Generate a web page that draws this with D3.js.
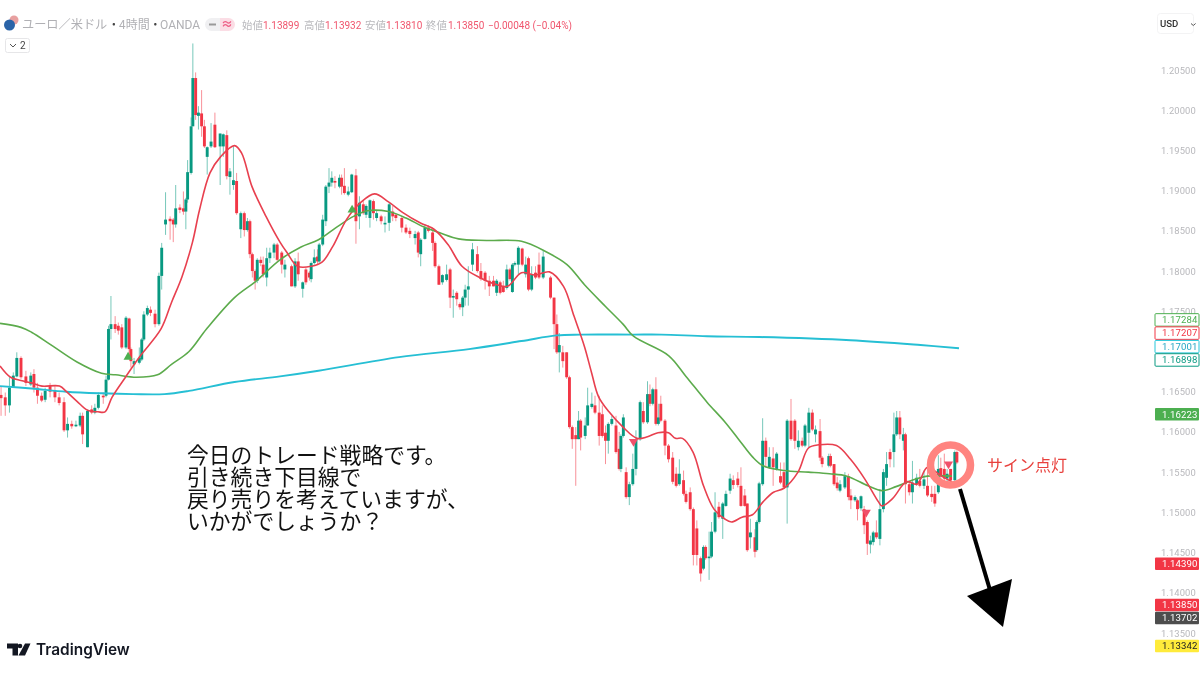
<!DOCTYPE html>
<html><head><meta charset="utf-8">
<script src="https://cdn.jsdelivr.net/npm/d3@7/dist/d3.min.js"></script>
<style>html,body{margin:0;padding:0;background:#fff}svg{display:block;filter:blur(0.35px)}</style>
</head><body><svg id="c" width="1200" height="675"></svg>
<script>
// rows: [bar, open, high, low, close]
const candlesA=[[.3,1.1646,1.1657,1.1620,1.1642],[1.5,1.1643,1.1649,1.1620,1.1633],[2.7,1.1633,1.1668,1.1624,1.1655],[3.8,1.1655,1.1674,1.1655,1.1670],[4.8,1.1669,1.1699,1.1668,1.1692],[6,1.1692,1.1694,1.1666,1.1668],[7.4,1.1669,1.1676,1.1657,1.1661],[8.8,1.1659,1.1674,1.1657,1.1670],[9.7,1.1672,1.1678,1.1649,1.1655],[10.7,1.1655,1.1661,1.1635,1.1645],[11.9,1.1645,1.1649,1.1637,1.1639],[12.9,1.1640,1.1655,1.1637,1.1651],[14.3,1.1657,1.1661,1.1643,1.1650],[15.7,1.1651,1.1657,1.1637,1.1643],[16.9,1.1643,1.1649,1.1633,1.1636],[18.3,1.1637,1.1643,1.1600,1.1602],[19.3,1.1602,1.1618,1.1593,1.1610],[20.5,1.1610,1.1614,1.1604,1.1607],[21.7,1.1607,1.1614,1.1606,1.1609],[22.9,1.1608,1.1624,1.1606,1.1620],[23.6,1.1620,1.1624,1.1585,1.1597],[25,1.1581,1.1628,1.1581,1.1626],[26.2,1.1628,1.1633,1.1622,1.1624],[27.1,1.1624,1.1635,1.1622,1.1630],[28.1,1.1630,1.1649,1.1628,1.1646],[29.5,1.1645,1.1649,1.1635,1.1643],[30.3,1.1645,1.1670,1.1643,1.1665],[31,1.1665,1.1732,1.1664,1.1728],[31.7,1.1728,1.1769,1.1715,1.1734],[32.9,1.1734,1.1744,1.1723,1.1728],[33.8,1.1732,1.1736,1.1721,1.1726],[34.8,1.1730,1.1734,1.1703,1.1705],[36,1.1705,1.1744,1.1703,1.1742],[36.9,1.1741,1.1742,1.1693,1.1703],[37.4,1.1703,1.1705,1.1680,1.1688],[38.3,1.1684,1.1692,1.1672,1.1688],[39.8,1.1686,1.1705,1.1684,1.1692],[40.5,1.1690,1.1717,1.1688,1.1715],[41.1,1.1715,1.1750,1.1713,1.1746],[42.1,1.1746,1.1757,1.1744,1.1754],[43,1.1752,1.1756,1.1744,1.1748],[44.3,1.1747,1.1752,1.1730,1.1734],[45.4,1.1734,1.1798,1.1732,1.1794],[46.2,1.1794,1.1835,1.1777,1.1829],[47.3,1.1858,1.1898,1.1845,1.1864],[48.6,1.1865,1.1868,1.1839,1.1862],[49.5,1.1864,1.1866,1.1836,1.1858],[50.2,1.1858,1.1907,1.1854,1.1878],[51.4,1.1879,1.1883,1.1872,1.1876],[52.4,1.1878,1.1899,1.1870,1.1874],[53.1,1.1874,1.1891,1.1852,1.1889],[53.6,1.1889,1.1938,1.1885,1.1923],[54.6,1.1922,1.1991,1.1920,1.1980],[55.1,1.1980,1.2083,1.1980,1.2040],[55.9,1.2040,1.2047,1.1988,1.1994],[56.7,1.1993,1.2005,1.1976,1.1997],[57.6,1.1996,1.2025,1.1967,1.1980],[58.4,1.1980,1.1988,1.1953,1.1955],[59.2,1.1942,1.1955,1.1920,1.1954],[60.3,1.1955,1.1984,1.1953,1.1961],[61.4,1.1982,1.1997,1.1953,1.1954],[62.9,1.1955,1.1971,1.1907,1.1971],[63.8,1.1955,1.1971,1.1942,1.1970],[64.8,1.1969,1.1975,1.1914,1.1918],[65.7,1.1917,1.1928,1.1895,1.1924],[66.7,1.1907,1.1955,1.1901,1.1913],[67.6,1.1912,1.1922,1.1870,1.1872],[68.8,1.1852,1.1874,1.1841,1.1872],[69.8,1.1872,1.1874,1.1843,1.1851],[70.7,1.1851,1.1866,1.1849,1.1862],[71.4,1.1862,1.1864,1.1816,1.1821],[72.1,1.1821,1.1823,1.1792,1.1800],[72.9,1.1800,1.1802,1.1777,1.1788],[73.5,1.1788,1.1816,1.1785,1.1814],[74.5,1.1814,1.1818,1.1806,1.1810],[75.2,1.1808,1.1818,1.1792,1.1796],[76.2,1.1792,1.1829,1.1781,1.1816],[77.1,1.1816,1.1829,1.1810,1.1823],[78.3,1.1823,1.1835,1.1816,1.1833],[79.2,1.1833,1.1835,1.1812,1.1814]];
const candlesB=[[80.5,1.1823,1.1825,1.1797,1.1808],[81.4,1.1802,1.1814,1.1792,1.1808],[83.3,1.1806,1.1808,1.1781,1.1781],[84.3,1.1781,1.1816,1.1779,1.1812],[85.2,1.1812,1.1823,1.1788,1.1796],[86.5,1.1778,1.1787,1.1767,1.1786],[87.4,1.1802,1.1804,1.1783,1.1786],[88.4,1.1798,1.1800,1.1788,1.1792],[88.9,1.1790,1.1812,1.1786,1.1810],[89.8,1.1810,1.1827,1.1808,1.1817],[90.7,1.1818,1.1827,1.1808,1.1812],[91.2,1.1812,1.1835,1.1810,1.1833],[92.2,1.1833,1.1870,1.1831,1.1864],[93.1,1.1862,1.1907,1.1856,1.1905],[94,1.1905,1.1928,1.1897,1.1910],[94.8,1.1910,1.1924,1.1905,1.1916],[95.7,1.1912,1.1918,1.1903,1.1910],[97,1.1905,1.1920,1.1903,1.1916],[97.6,1.1916,1.1920,1.1895,1.1905],[98.4,1.1906,1.1928,1.1895,1.1897],[99.5,1.1895,1.1905,1.1893,1.1899],[100.5,1.1898,1.1921,1.1897,1.1920],[101.7,1.1919,1.1927,1.1834,1.1862],[102.7,1.1868,1.1893,1.1852,1.1885],[103.8,1.1883,1.1887,1.1870,1.1872],[104.6,1.1870,1.1883,1.1866,1.1881],[105.7,1.1866,1.1889,1.1854,1.1888],[106.7,1.1887,1.1889,1.1864,1.1872],[107.6,1.1866,1.1876,1.1862,1.1872],[108.9,1.1868,1.1870,1.1858,1.1862],[110,1.1858,1.1868,1.1848,1.1860],[111.2,1.1860,1.1885,1.1850,1.1883],[112.2,1.1874,1.1881,1.1862,1.1868],[113.1,1.1870,1.1872,1.1862,1.1866],[114.8,1.1866,1.1868,1.1848,1.1854],[116,1.1854,1.1858,1.1846,1.1848],[117.1,1.1850,1.1854,1.1841,1.1846],[118.6,1.1841,1.1850,1.1833,1.1846],[119.5,1.1848,1.1850,1.1817,1.1823],[120.2,1.1821,1.1841,1.1806,1.1839],[121.4,1.1840,1.1858,1.1839,1.1854],[122.4,1.1854,1.1857,1.1848,1.1850],[123.6,1.1848,1.1850,1.1825,1.1835],[124.3,1.1835,1.1837,1.1804,1.1806],[125.4,1.1806,1.1808,1.1783,1.1783],[126.4,1.1786,1.1796,1.1783,1.1795],[127.6,1.1789,1.1808,1.1787,1.1796],[128.6,1.1802,1.1804,1.1754,1.1767],[129.5,1.1767,1.1777,1.1742,1.1769],[130.5,1.1773,1.1775,1.1757,1.1765],[131.4,1.1759,1.1761,1.1752,1.1755],[132.2,1.1755,1.1769,1.1744,1.1767],[132.9,1.1767,1.1783,1.1757,1.1777],[133.8,1.1777,1.1806,1.1757,1.1781],[135,1.1808,1.1835,1.1800,1.1827],[136.4,1.1821,1.1831,1.1798,1.1800],[137.4,1.1800,1.1810,1.1788,1.1790],[138.6,1.1798,1.1800,1.1777,1.1788],[139.8,1.1788,1.1794,1.1769,1.1781],[141,1.1788,1.1794,1.1781,1.1781],[141.9,1.1773,1.1790,1.1769,1.1788],[142.9,1.1786,1.1788,1.1771,1.1773],[143.8,1.1781,1.1788,1.1773,1.1774],[144.8,1.1779,1.1808,1.1777,1.1802],[145.7,1.1802,1.1804,1.1788,1.1790],[146.4,1.1774,1.1810,1.1773,1.1808],[147.1,1.1808,1.1812,1.1806,1.1810],[148.1,1.1808,1.1831,1.1796,1.1829],[149.2,1.1828,1.1829,1.1806,1.1808],[150.2,1.1796,1.1818,1.1792,1.1808],[151,1.1816,1.1818,1.1775,1.1777],[151.9,1.1777,1.1806,1.1775,1.1796],[153,1.1798,1.1806,1.1790,1.1792],[154,1.1808,1.1823,1.1790,1.1792],[155.2,1.1792,1.1825,1.1790,1.1818]];
const candlesC=[[157.3,1.1792,1.1794,1.1765,1.1767],[158.3,1.1767,1.1767,1.1703,1.1734],[159.1,1.1734,1.1746,1.1697,1.1699],[159.8,1.1699,1.1723,1.1674,1.1708],[160.8,1.1699,1.1707,1.1680,1.1688],[161.9,1.1699,1.1699,1.1666,1.1668],[162.7,1.1668,1.1670,1.1604,1.1606],[163.5,1.1606,1.1608,1.1579,1.1591],[164.5,1.1596,1.1606,1.1533,1.1591],[165.3,1.1591,1.1626,1.1591,1.1614],[165.9,1.1614,1.1616,1.1577,1.1593],[167.2,1.1595,1.1618,1.1591,1.1608],[167.9,1.1608,1.1655,1.1608,1.1633],[169.1,1.1631,1.1649,1.1629,1.1635],[170,1.1633,1.1645,1.1622,1.1624],[171.2,1.1624,1.1645,1.1583,1.1595],[172.1,1.1622,1.1633,1.1593,1.1595],[173,1.1599,1.1608,1.1560,1.1589],[173.8,1.1589,1.1612,1.1573,1.1610],[174.8,1.1610,1.1620,1.1608,1.1616],[176,1.1608,1.1620,1.1573,1.1575],[176.9,1.1579,1.1600,1.1552,1.1554],[177.4,1.1554,1.1597,1.1550,1.1595],[178.1,1.1595,1.1622,1.1593,1.1618],[178.9,1.1550,1.1556,1.1517,1.1519],[179.8,1.1519,1.1538,1.1509,1.1535],[180.8,1.1535,1.1573,1.1533,1.1554],[181.7,1.1554,1.1602,1.1546,1.1591],[182.9,1.1591,1.1639,1.1589,1.1637],[183.8,1.1626,1.1637,1.1610,1.1612],[185,1.1612,1.1663,1.1610,1.1647],[185.7,1.1647,1.1659,1.1632,1.1635],[186.5,1.1635,1.1655,1.1633,1.1653],[187.4,1.1653,1.1668,1.1608,1.1610],[188.1,1.1610,1.1635,1.1608,1.1618],[188.8,1.1635,1.1645,1.1612,1.1614],[190,1.1614,1.1616,1.1571,1.1583],[191,1.1583,1.1585,1.1562,1.1566],[192.2,1.1568,1.1575,1.1535,1.1538],[193.2,1.1548,1.1556,1.1531,1.1533],[194.1,1.1535,1.1566,1.1533,1.1548],[195.3,1.1540,1.1552,1.1521,1.1523],[196,1.1523,1.1527,1.1511,1.1513],[197.2,1.1525,1.1531,1.1502,1.1504],[198.1,1.1504,1.1506,1.1434,1.1447],[199.1,1.1480,1.1490,1.1434,1.1447],[200.2,1.1443,1.1445,1.1414,1.1424],[201,1.1430,1.1459,1.1428,1.1457],[201.6,1.1457,1.1459,1.1441,1.1443],[202.6,1.1443,1.1476,1.1416,1.1445],[203.3,1.1445,1.1488,1.1443,1.1476],[204.3,1.1476,1.1525,1.1474,1.1500],[205.4,1.1507,1.1513,1.1492,1.1494],[206.5,1.1492,1.1513,1.1467,1.1511],[207.4,1.1508,1.1527,1.1507,1.1523],[208.6,1.1527,1.1548,1.1523,1.1542],[209.5,1.1540,1.1546,1.1529,1.1534],[210.8,1.1542,1.1550,1.1531,1.1534]];
const candlesD=[[211.7,1.1533,1.1556,1.1507,1.1508],[212.8,1.1521,1.1529,1.1507,1.1508],[213.5,1.1511,1.1511,1.1451,1.1453],[214.4,1.1469,1.1492,1.1455,1.1475],[215.7,1.1469,1.1479,1.1444,1.1451],[216.2,1.1453,1.1490,1.1451,1.1488],[216.9,1.1488,1.1538,1.1486,1.1536],[217.9,1.1535,1.1617,1.1533,1.1589],[218.8,1.1589,1.1593,1.1556,1.1569],[219.8,1.1556,1.1581,1.1554,1.1569],[220.9,1.1567,1.1581,1.1533,1.1556],[221.9,1.1554,1.1575,1.1552,1.1573],[223,1.1545,1.1562,1.1535,1.1537],[224,1.1550,1.1562,1.1529,1.1531],[224.9,1.1531,1.1616,1.1486,1.1614],[226,1.1614,1.1641,1.1589,1.1591],[227.1,1.1614,1.1616,1.1579,1.1589],[228.1,1.1581,1.1602,1.1577,1.1589],[229.2,1.1589,1.1593,1.1581,1.1583],[230,1.1583,1.1610,1.1581,1.1608],[231.1,1.1599,1.1630,1.1581,1.1624],[232.1,1.1624,1.1628,1.1601,1.1603],[233,1.1597,1.1608,1.1587,1.1603],[234.3,1.1601,1.1616,1.1564,1.1568],[234.9,1.1568,1.1570,1.1556,1.1560],[236.8,1.1558,1.1573,1.1556,1.1570],[237.3,1.1570,1.1573,1.1556,1.1558],[238.3,1.1560,1.1560,1.1533,1.1535],[239.2,1.1537,1.1544,1.1527,1.1530],[240,1.1527,1.1540,1.1525,1.1535],[241.4,1.1531,1.1550,1.1529,1.1545],[242.4,1.1545,1.1548,1.1515,1.1519],[243.1,1.1521,1.1529,1.1504,1.1515],[244.3,1.1515,1.1521,1.1513,1.1519],[245,1.1515,1.1517,1.1490,1.1504],[246,1.1505,1.1521,1.1502,1.1520],[246.9,1.1504,1.1508,1.1473,1.1484],[247.8,1.1488,1.1490,1.1447,1.1461],[248.7,1.1460,1.1471,1.1449,1.1465],[249.5,1.1463,1.1477,1.1459,1.1475],[250.4,1.1475,1.1490,1.1467,1.1469],[251.4,1.1467,1.1529,1.1459,1.1504],[252.4,1.1504,1.1554,1.1500,1.1550],[253.3,1.1543,1.1575,1.1533,1.1560],[254.3,1.1575,1.1579,1.1556,1.1566],[255.4,1.1575,1.1624,1.1556,1.1597],[256.2,1.1597,1.1626,1.1595,1.1618],[257.1,1.1618,1.1626,1.1591,1.1597],[258.1,1.1589,1.1605,1.1577,1.1597],[258.7,1.1597,1.1599,1.1511,1.1535],[259.8,1.1535,1.1539,1.1521,1.1525],[260.7,1.1525,1.1564,1.1511,1.1537],[261.9,1.1535,1.1548,1.1533,1.1543],[262.8,1.1539,1.1554,1.1531,1.1533],[264,1.1533,1.1552,1.1529,1.1541],[265,1.1533,1.1554,1.1519,1.1521],[266.2,1.1523,1.1533,1.1513,1.1519],[267.1,1.1523,1.1533,1.1507,1.1511],[268.1,1.1525,1.1571,1.1523,1.1554],[268.8,1.1555,1.1568,1.1539,1.1546],[269.8,1.1554,1.1573,1.1535,1.1542],[270.6,1.1542,1.1554,1.1537,1.1548],[271.6,1.1554,1.1554,1.1531,1.1540],[272.8,1.1540,1.1577,1.1533,1.1575],[273.4,1.1575,1.1577,1.1560,1.1562]];

const redBars=[0,3,6,9,12,17,19,22,25,28,30,32,36,40,46,49,52,55,57,60,63,67,69,72,76,80,82,85,89,92,95,99,103,107,111,115,120,124,128,132,137,142,145,149,153,157,161,164,167,169,171,174,178,182,185,188,191,193,195,198,201,204,207,209,212,215,218,221,224,228,231,234,239,243,247,251,252,255,259,262,265,269,272];
const redVals=[1.1682,1.1668,1.1664,1.1661,1.1657,1.1657,1.1650,1.1638,1.1627,1.1625,1.1625,1.1643,1.1669,1.1694,1.1728,1.1761,1.1793,1.1836,1.1876,1.1922,1.1942,1.1956,1.1947,1.1905,1.1868,1.1836,1.1823,1.1806,1.1806,1.1811,1.1830,1.1864,1.1885,1.1896,1.1886,1.1873,1.1860,1.1852,1.1833,1.1806,1.1792,1.1783,1.1781,1.1798,1.1795,1.1799,1.1781,1.1744,1.1706,1.1674,1.1644,1.1625,1.1606,1.1592,1.1594,1.1599,1.1599,1.1592,1.1592,1.1575,1.1533,1.1504,1.1492,1.1488,1.1494,1.1497,1.1513,1.1525,1.1530,1.1550,1.1580,1.1584,1.1583,1.1566,1.1542,1.1513,1.1508,1.1517,1.1538,1.1535,1.1556,1.1545,1.1538];
const greenBars=[0,6,9,15,22,29,33,39,45,49,54,59,67,73,80,86,91,96,101,105,111,116,121,126,131,139,149,156,162,167,173,178,181,191,196,202,207,211,215,218,224,231,237,242,248,252,256,260,265,272];
const greenVals=[1.1735,1.1730,1.1724,1.1707,1.1687,1.1673,1.1671,1.1668,1.1671,1.1684,1.1700,1.1728,1.1767,1.1787,1.1814,1.1830,1.1839,1.1854,1.1868,1.1875,1.1874,1.1866,1.1855,1.1847,1.1840,1.1838,1.1837,1.1824,1.1808,1.1783,1.1756,1.1734,1.1719,1.1695,1.1669,1.1637,1.1613,1.1591,1.1569,1.1558,1.1552,1.1550,1.1548,1.1545,1.1533,1.1527,1.1532,1.1539,1.1545,1.1545];
const cyanBars=[0,9,19,29,38,47,54,67,80,91,114,134,149,159,166,181,189,202,217,243,263,274];
const cyanVals=[1.1657,1.1654,1.1650,1.1648,1.1647,1.1647,1.1651,1.1662,1.1669,1.1676,1.1693,1.1703,1.1713,1.1720,1.1721,1.1721,1.1721,1.1719,1.1718,1.1714,1.1708,1.1704];

const tickValues=[1.205,1.2,1.195,1.19,1.185,1.18,1.175,1.165,1.16,1.155,1.15,1.145,1.14,1.135];
const signalUp=[[36.6,1.1693],[100.6,1.1876]];
const signalDown=[[181,1.1588],[247.5,1.1500],[271,1.1560]];
const priceTags=["1.17284","1.17207","1.17001","1.16898","1.16223","1.14390","1.13850","1.13702","1.13342"];
const tagShift=[-9,-2,-5,0,0,2,0,1,0];
const tagFill=["#fff","#fff","#fff","#fff","#4caf50","#f23645","#f23645","#4d4d4d","#ffeb3b"];
const tagText=["#4caf50","#f23645","#26a6c4","#089981","#fff","#fff","#fff","#fff","#222"];
const tagStroke=["#4caf50","#f23645","#26c6da","#089981","none","none","none","none","none"];
const noteLines=["今日のトレード戦略です。","引き続き下目線で","戻り売りを考えていますが、","いかがでしょうか？"];
const legendItems=[["始値","1.13899"],["高値","1.13932"],["安値","1.13810"],["終値","1.13850"]];

const svg=d3.select("#c");
const x=d3.scaleLinear().domain([0,274]).range([0,959]);
const y=d3.scaleLinear().domain([1.205,1.135]).range([70,633]);
const UP="#089981",DN="#f23645";
const candles=[...candlesA,...candlesB,...candlesC,...candlesD];
const col=d=>d[4]>=d[1]?UP:DN;

const gC=svg.append("g");
gC.selectAll("line").data(candles).join("line")
 .attr("x1",d=>x(d[0])).attr("x2",d=>x(d[0])).attr("y1",d=>y(d[2])).attr("y2",d=>y(d[3]))
 .attr("stroke",col).attr("stroke-width",1).attr("stroke-opacity",.55);
gC.selectAll("rect").data(candles).join("rect")
 .attr("x",d=>x(d[0])-1.45).attr("width",2.9)
 .attr("y",d=>y(Math.max(d[1],d[4]))).attr("height",d=>Math.max(1,Math.abs(y(d[1])-y(d[4]))))
 .attr("fill",col);

function maLine(bars,vals,color,w){
 const pts=bars.map((b,i)=>[x(b),y(vals[i])]);
 svg.append("path").attr("d",d3.line().curve(d3.curveCatmullRom.alpha(.5))(pts))
  .attr("fill","none").attr("stroke",color).attr("stroke-width",w);
}
maLine(cyanBars,cyanVals,"#26bfd4",1.9);
maLine(greenBars,greenVals,"#5cab4c",1.6);
maLine(redBars,redVals,"#e8404f",1.6);

svg.selectAll(".su").data(signalUp).join("path").attr("class","su")
 .attr("d",d3.symbol(d3.symbolTriangle,36)).attr("fill","#4caf50")
 .attr("transform",d=>`translate(${x(d[0])},${y(d[1])})`);
svg.selectAll(".sd").data(signalDown).join("path").attr("class","sd")
 .attr("d",d3.symbol(d3.symbolTriangle,36)).attr("fill","#f0506a")
 .attr("transform",d=>`translate(${x(d[0])},${y(d[1])}) rotate(180)`);

// y axis
const axis=d3.axisRight(y).tickValues(tickValues).tickSize(0).tickPadding(0).tickFormat(d3.format(".5f"));
const gA=svg.append("g").attr("transform","translate(1161,0)").call(axis);
gA.select(".domain").remove();
gA.selectAll("text").attr("fill","#b8b8bc").attr("font-family","Roboto").attr("font-size",9.4).attr("letter-spacing",".1px");

// price tags
priceTags.forEach((t,i)=>{
 const cy=y(+t)+tagShift[i];
 svg.append("rect").attr("x",1155).attr("y",cy-6).attr("width",44).attr("height",12.5).attr("rx",1)
  .attr("fill",tagFill[i]).attr("stroke",tagStroke[i]).attr("stroke-width",1);
 svg.append("text").attr("x",1162).attr("y",cy+3.6).text(t).attr("fill",tagText[i])
  .attr("font-family","Roboto").attr("font-size",9.6).attr("letter-spacing",".1px");
});

// annotations
const g=svg.append("g");
g.append("circle").attr("cx",950.5).attr("cy",465).attr("r",20).attr("fill","none").attr("stroke","#ff8480").attr("stroke-width",7.5);
g.append("line").attr("x1",960).attr("y1",489).attr("x2",990).attr("y2",590).attr("stroke","#000").attr("stroke-width",4);
g.append("path").attr("d","M1012 579L967 596L1003 627Z").attr("fill","#000");
g.append("text").attr("x",987).attr("y",471).text("サイン点灯").attr("fill","#e8403c").attr("font-family","'Noto Sans CJK JP'").attr("font-size",16);
noteLines.forEach((t,i)=>g.append("text").attr("x",187).attr("y",463+i*22).text(t)
 .attr("fill","#111").attr("font-family","'Noto Sans CJK JP'").attr("font-size",21.8));

// header
const hf="'Noto Sans CJK JP'";
const hd=svg.append("g").attr("font-family",hf);
hd.append("circle").attr("cx",14).attr("cy",20).attr("r",4.5).attr("fill","#e8a0a0");
hd.append("circle").attr("cx",9.5).attr("cy",25).attr("r",5.5).attr("fill","#2a64a8");
hd.append("text").attr("x",22).attr("y",29).text("ユーロ／米ドル").attr("fill","#b0b0b4").attr("font-size",12.2);
hd.append("text").attr("x",110).attr("y",29).text("·").attr("fill","#444").attr("font-size",13).attr("font-weight",700);
hd.append("text").attr("x",119).attr("y",29).text("4時間").attr("fill","#b0b0b4").attr("font-size",12);
hd.append("text").attr("x",151.5).attr("y",29).text("·").attr("fill","#444").attr("font-size",13).attr("font-weight",700);
hd.append("text").attr("x",160).attr("y",29).text("OANDA").attr("fill","#b0b0b4").attr("font-size",12).attr("font-family","Roboto");
hd.append("path").attr("d","M211.5 18H220V31H211.5A6.5 6.5 0 0 1 211.5 18Z").attr("fill","#f0f0f2");
hd.append("path").attr("d","M220 18H228.5A6.5 6.5 0 0 1 228.5 31H220Z").attr("fill","#fbdde5");
hd.append("rect").attr("x",209).attr("y",23.5).attr("width",7).attr("height",2).attr("fill","#999");
hd.append("text").attr("x",227).attr("y",28.5).text("≈").attr("text-anchor","middle").attr("fill","#ee5f86").attr("font-size",12).attr("font-weight",700);
const lx=[242,304,365,426],vx=[263,325,386,448];
legendItems.forEach((d,i)=>{
 hd.append("text").attr("x",lx[i]).attr("y",29).text(d[0]).attr("fill","#b8b8bc").attr("font-size",10.4);
 hd.append("text").attr("x",vx[i]).attr("y",29).text(d[1]).attr("fill","#f0566e").attr("font-size",10).attr("font-family","Roboto");
});
hd.append("text").attr("x",488).attr("y",29).text("−0.00048 (−0.04%)").attr("fill","#f0566e").attr("font-size",10).attr("font-family","Roboto");
hd.append("rect").attr("x",5.5).attr("y",38.5).attr("width",24).attr("height",14).attr("rx",2).attr("fill","#fff").attr("stroke","#e6e6e8");
hd.append("path").attr("d","M10 44L13 47L16 44").attr("fill","none").attr("stroke","#555").attr("stroke-width",1);
hd.append("text").attr("x",20).attr("y",49).text("2").attr("fill","#444").attr("font-size",10).attr("font-family","Roboto");
hd.append("rect").attr("x",1157.5).attr("y",13.5).attr("width",36).attr("height",20).attr("rx",3).attr("fill","#fff").attr("stroke","#f3f3f4");
hd.append("text").attr("x",1160).attr("y",27).text("USD").attr("fill","#333").attr("font-size",9.6).attr("font-family","Roboto").attr("font-weight",500);
hd.append("path").attr("d","M1191 23.5L1193.3 25.5L1195.6 23.5").attr("fill","none").attr("stroke","#555").attr("stroke-width",1);

// logo
const lg=svg.append("g");
lg.append("path").attr("d","M7 643.5H18V655.5H12.5V648.5H7Z").attr("fill","#131722");
lg.append("circle").attr("cx",20).attr("cy",646).attr("r",2.3).attr("fill","#131722");
lg.append("path").attr("d","M25 643.5H30.5L25 655.5H18.5Z").attr("fill","#131722");
lg.append("text").attr("x",36).attr("y",655).text("TradingView").attr("fill","#131722").attr("font-family","Inter").attr("font-weight",600).attr("font-size",15.4);
</script></body></html>
